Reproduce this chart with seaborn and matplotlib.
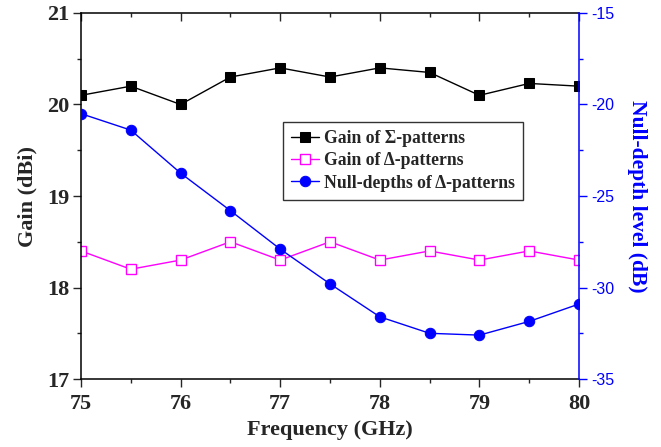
import numpy as np
import pandas as pd
import matplotlib
matplotlib.use("Agg")
import matplotlib.pyplot as plt
from matplotlib.ticker import MultipleLocator
import seaborn as sns

# Measured data
freq = [75.0, 75.5, 76.0, 76.5, 77.0, 77.5, 78.0, 78.5, 79.0, 79.5, 80.0]
gain_sigma = [20.1, 20.2, 20.0, 20.3, 20.4, 20.3, 20.4, 20.35, 20.1, 20.23, 20.2]
gain_delta = [18.4, 18.2, 18.3, 18.5, 18.3, 18.5, 18.3, 18.4, 18.3, 18.4, 18.3]
null_depth = [-20.5, -21.4, -23.75, -25.8, -27.9, -29.8, -31.6, -32.5, -32.6, -31.85, -30.9]

labels = ["Gain of \u03A3-patterns", "Gain of \u0394-patterns", "Null-depths of \u0394-patterns"]

sns.set_style("ticks")
plt.rcParams["font.family"] = ["Liberation Serif", "DejaVu Serif"]
plt.rcParams["font.weight"] = "bold"
plt.rcParams["axes.labelweight"] = "bold"
plt.rcParams["axes.unicode_minus"] = False

df = pd.DataFrame({"freq": freq, "sigma": gain_sigma, "delta": gain_delta, "null": null_depth})

fig = plt.figure(figsize=(6.61, 4.47), dpi=100)
ax = fig.add_axes([0.1225, 0.152, 0.7535, 0.819])
ax2 = ax.twinx()

sns.lineplot(data=df, x="freq", y="sigma", ax=ax, color="black", marker="s",
             markersize=6.5, linewidth=1.0, markeredgecolor="black", label=labels[0], legend=False)
sns.lineplot(data=df, x="freq", y="delta", ax=ax, color="#FF00FF", marker="s",
             markersize=6.5, linewidth=1.0, markerfacecolor="white", markeredgecolor="#FF00FF",
             markeredgewidth=1.0, label=labels[1], legend=False)
sns.lineplot(data=df, x="freq", y="null", ax=ax2, color="#0000FF", marker="o",
             markersize=7.5, linewidth=1.0, markeredgecolor="#0000FF", label=labels[2], legend=False)

ax.set_xlim(75, 80)
ax.set_ylim(17, 21)
ax2.set_ylim(-35, -15)

ax.xaxis.set_major_locator(MultipleLocator(1))
ax.xaxis.set_minor_locator(MultipleLocator(0.5))
ax.yaxis.set_major_locator(MultipleLocator(1))
ax.yaxis.set_minor_locator(MultipleLocator(0.5))
ax2.yaxis.set_major_locator(MultipleLocator(5))
ax2.yaxis.set_minor_locator(MultipleLocator(2.5))

ax.set_xlabel("Frequency (GHz)", fontsize=16, fontweight="bold", labelpad=4)
ax.set_ylabel("Gain (dBi)", fontsize=16, fontweight="bold", labelpad=7)
ax2.set_ylabel("Null-depth level (dB)", fontsize=15.5, fontweight="bold", color="#0000FF",
               rotation=270, labelpad=23)

ax.tick_params(axis="x", which="both", direction="out", bottom=True, top=True, labelsize=16, pad=5)
ax.tick_params(axis="x", which="major", length=6, width=1)
ax.tick_params(axis="x", which="minor", length=3, width=1)
ax.tick_params(axis="y", which="major", direction="out", length=6, width=1, labelsize=16, pad=2)
ax.tick_params(axis="y", which="minor", direction="out", length=3, width=1)
for lbl in ax.get_xticklabels() + ax.get_yticklabels():
    lbl.set_fontweight("bold")

ax2.tick_params(axis="y", which="major", direction="out", length=6, width=1, colors="#0000FF",
                labelsize=11.5, pad=3)
ax2.tick_params(axis="y", which="minor", direction="out", length=3, width=1, colors="#0000FF")
for lbl in ax2.get_yticklabels():
    lbl.set_fontfamily("Liberation Sans")
    lbl.set_fontweight("normal")

# Top ticks point into the plot
ax.xaxis.set_ticks_position("both")
for t in ax.xaxis.get_major_ticks() + ax.xaxis.get_minor_ticks():
    t.tick2line.set_marker(3)

for sp in ["left", "bottom", "top"]:
    ax.spines[sp].set_color("black")
    ax.spines[sp].set_linewidth(1.1)
ax.spines["right"].set_visible(False)
ax2.spines["right"].set_color("#0000FF")
ax2.spines["right"].set_linewidth(1.1)
for sp in ["left", "bottom", "top"]:
    ax2.spines[sp].set_visible(False)

h1, l1 = ax.get_legend_handles_labels()
h2, l2 = ax2.get_legend_handles_labels()
leg = ax2.legend(h1 + h2, l1 + l2, loc="upper left", bbox_to_anchor=(0.405, 0.702),
                 borderaxespad=0, frameon=True, fancybox=False, edgecolor="black",
                 prop={"family": "Liberation Serif", "weight": "bold", "size": 12.7},
                 handlelength=1.6, handletextpad=0.3, labelspacing=0.3, borderpad=0.45)
leg.get_frame().set_linewidth(1.0)

fig.savefig("out.png", dpi=100)
